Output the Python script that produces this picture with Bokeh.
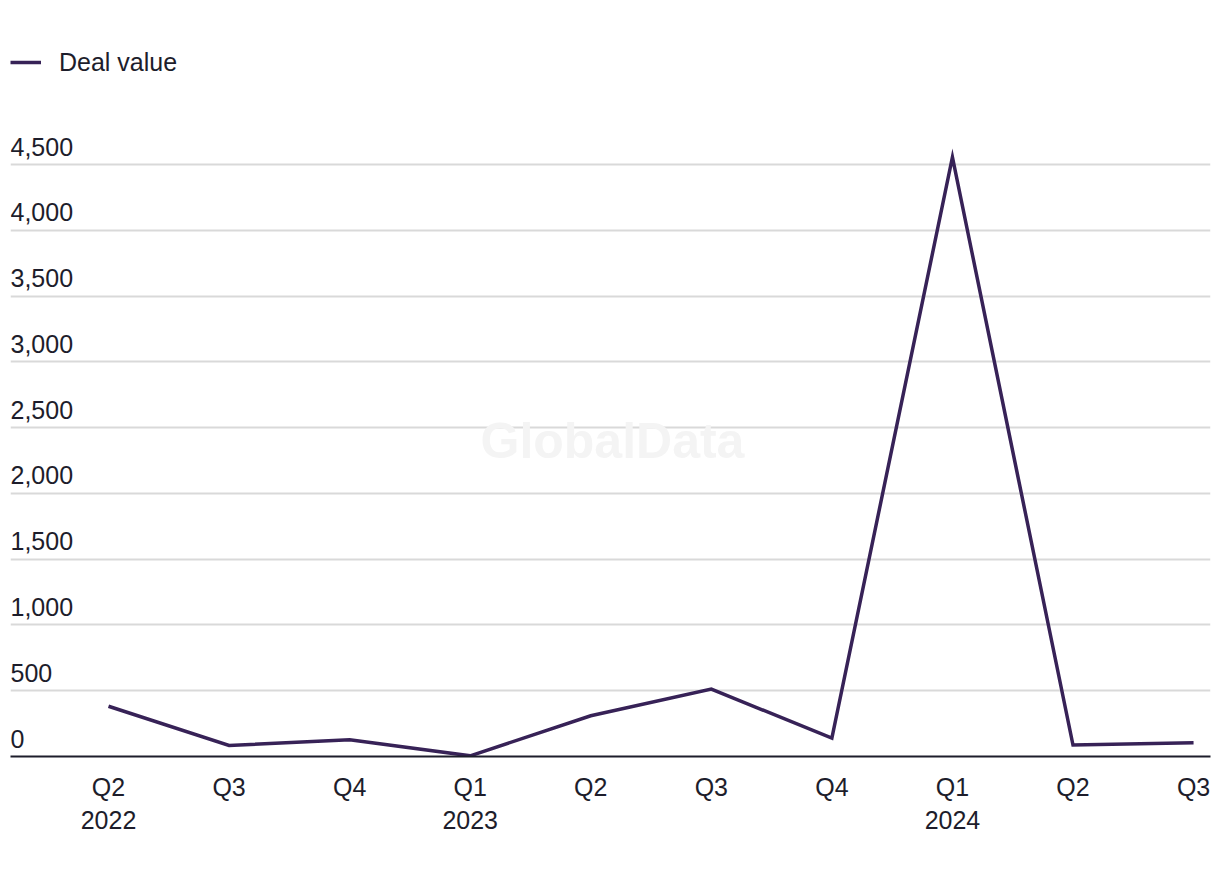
from bokeh.plotting import figure
from bokeh.models import Range1d, FixedTicker, Legend, LegendItem, ColumnDataSource
from bokeh.core.properties import value
from bokeh.embed import file_html
from bokeh.resources import INLINE

quarters = ["Q2", "Q3", "Q4", "Q1", "Q2", "Q3", "Q4", "Q1", "Q2", "Q3"]
years = ["2022", "", "", "2023", "", "", "", "2024", "", ""]
deal_value = [382, 84, 127, 5, 310, 512, 140, 4555, 87, 104]
y_ticks = [0, 500, 1000, 1500, 2000, 2500, 3000, 3500, 4000, 4500]
y_tick_labels = ["0", "500", "1,000", "1,500", "2,000", "2,500", "3,000", "3,500", "4,000", "4,500"]

FONT = "Liberation Sans"
TEXT = "#1d1d2b"
LINE = "#372257"

idx = list(range(len(quarters)))
x_start = -0.813
x_end = x_start + 1200 / 120.56
y_end = 748 * 4500 / 592

p = figure(width=1212, height=866, output_backend="svg", toolbar_location=None,
           x_range=Range1d(x_start, x_end), y_range=Range1d(0, y_end),
           y_axis_location=None, min_border_left=10, min_border_right=2,
           min_border_top=8, min_border_bottom=110)
p.outline_line_color = None
p.background_fill_color = None
p.border_fill_color = None

# watermark
p.text(x=[4.18], y=[2400], text=["GlobalData"], text_font=value(FONT),
       text_font_size="50px", text_font_style="bold", text_color="#f4f4f4",
       text_align="center", text_baseline="middle")

p.xgrid.visible = False
p.ygrid.ticker = FixedTicker(ticks=y_ticks[1:])
p.ygrid.grid_line_color = "#d9d9d9"
p.ygrid.grid_line_width = 2

xa = p.xaxis[0]
xa.ticker = FixedTicker(ticks=idx)
xa.major_label_overrides = {i: (q + "\n" + y if y else q) for i, (q, y) in enumerate(zip(quarters, years))}
xa.major_tick_line_color = None
xa.minor_tick_line_color = None
xa.axis_line_color = TEXT
xa.axis_line_width = 2
xa.major_label_text_font = FONT
xa.major_label_text_font_size = "25px"
xa.major_label_text_color = TEXT
xa.major_label_standoff = 10

# y tick labels placed above gridlines at the left edge
src_y = ColumnDataSource(dict(x=[x_start] * len(y_ticks), y=y_ticks, t=y_tick_labels))
p.text(x="x", y="y", text="t", source=src_y, text_font=value(FONT),
       text_font_size="25px", text_color=TEXT, text_align="left",
       text_baseline="alphabetic", y_offset=-18)

r = p.line(idx, deal_value, line_color=LINE, line_width=3.5, line_join="miter")

legend = Legend(items=[LegendItem(label="Deal value", renderers=[r])],
                location=(0, 679), orientation="horizontal",
                label_text_font=FONT, label_text_font_size="25px", label_text_color=TEXT,
                glyph_width=31, glyph_height=30, label_height=30, label_standoff=18,
                padding=0, margin=0, spacing=0,
                background_fill_alpha=0, border_line_color=None)
p.add_layout(legend)

open("out.html", "w").write(file_html(p, INLINE))
